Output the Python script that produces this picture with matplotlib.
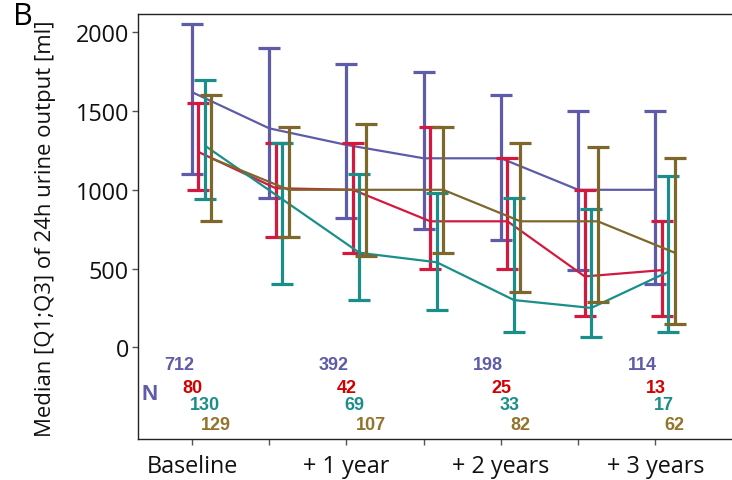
import matplotlib
matplotlib.use("Agg")
import matplotlib.pyplot as plt

# Follow-up time points (years since baseline)
times = [0, 0.5, 1, 1.5, 2, 2.5, 3]
year_ticks = [0, 1, 2, 3]
year_labels = ["Baseline", "+ 1 year", "+ 2 years", "+ 3 years"]
half_year_ticks = [0.5, 1.5, 2.5]

# Median and interquartile range of 24h urine output [ml] per group
g1_med = [1620, 1390, 1285, 1200, 1200, 1000, 1000]
g1_q1 = [1100, 950, 820, 750, 680, 490, 400]
g1_q3 = [2050, 1900, 1800, 1750, 1600, 1500, 1500]

g2_med = [1240, 1010, 1000, 800, 800, 450, 490]
g2_q1 = [1000, 700, 600, 500, 500, 200, 200]
g2_q3 = [1550, 1300, 1300, 1400, 1200, 1000, 800]

g3_med = [1280, 940, 600, 540, 300, 250, 480]
g3_q1 = [940, 400, 300, 240, 100, 65, 100]
g3_q3 = [1700, 1300, 1100, 980, 950, 880, 1090]

g4_med = [1200, 1000, 1000, 1000, 800, 800, 600]
g4_q1 = [800, 700, 580, 600, 350, 290, 150]
g4_q3 = [1600, 1400, 1420, 1400, 1300, 1270, 1200]

# Number of patients per group at each yearly visit
g1_n = [712, 392, 198, 114]
g2_n = [80, 42, 25, 13]
g3_n = [130, 69, 33, 17]
g4_n = [129, 107, 82, 62]

line_colors = ["#5e5ba8", "#d4193f", "#1a8f89", "#7d672b"]
text_colors = ["#5e5ba8", "#d40000", "#1a8f89", "#93742c"]

W, H = 732, 481
fig = plt.figure(figsize=(W / 100, H / 100), dpi=100)
ax = fig.add_axes([138 / W, 41 / H, (W - 138) / W, 425 / H])

groups = [
    (g1_med, g1_q1, g1_q3),
    (g2_med, g2_q1, g2_q3),
    (g3_med, g3_q1, g3_q3),
    (g4_med, g4_q1, g4_q3),
]
dodge = 0.042
for k, (med, q1, q3) in enumerate(groups):
    xs = [t + k * dodge for t in times]
    lo = [m - a for m, a in zip(med, q1)]
    hi = [b - m for m, b in zip(med, q3)]
    ax.errorbar(xs, med, yerr=[lo, hi], fmt="none", ecolor=line_colors[k],
                elinewidth=2.3, capsize=8, capthick=2.3, zorder=2 + k)
    ax.plot(xs, med, color=line_colors[k], lw=1.6, zorder=2 + k,
            solid_capstyle="butt")

# Patient counts below the curves
row_y = [-112, -254, -365, -492]
counts = [g1_n, g2_n, g3_n, g4_n]
x_shift = [-0.084, 0.0, -0.012, 0.058]
h_align = ["center", "center", "left", "left"]
for k in range(4):
    for t, n in zip(year_ticks, counts[k]):
        ax.text(t + x_shift[k], row_y[k], str(n), color=text_colors[k],
                fontsize=13, fontweight="bold", family="Liberation Sans",
                ha=h_align[k], va="center", zorder=10)
ax.text(-0.275, -290, "N", color=text_colors[0], fontsize=16,
        fontweight="bold", family="Liberation Sans", ha="center", va="center")

ax.set_xlim(-0.3495, (W - 192) / 154.5)
ax.set_ylim(-582, 2116)
ax.set_yticks([0, 500, 1000, 1500, 2000])
ax.set_xticks(year_ticks)
ax.set_xticklabels(year_labels)
ax.set_xticks(half_year_ticks, minor=True)

for s in ["left", "top", "bottom"]:
    ax.spines[s].set_linewidth(1.0)
    ax.spines[s].set_color("#222222")
ax.spines["right"].set_visible(False)

ax.tick_params(axis="both", which="both", length=4.5, width=1.0,
               color="#555555", direction="out")
ax.tick_params(axis="x", which="major", pad=6)
ax.tick_params(axis="y", pad=2)
for lab in ax.get_xticklabels() + ax.get_yticklabels():
    lab.set_family("Open Sans")
    lab.set_fontsize(16.8)
    lab.set_color("#111111")

ax.set_ylabel("Median [Q1;Q3] of 24h urine output [ml]", family="Open Sans",
              fontsize=15.9, color="#111111")
ax.yaxis.set_label_coords((56 - 138) / (W - 138), 0.498)

fig.text(13 / W, 1 - 17 / H, "B", family="Open Sans", fontsize=22,
         ha="left", va="center", color="#000000")

fig.savefig("out.png", dpi=100)
